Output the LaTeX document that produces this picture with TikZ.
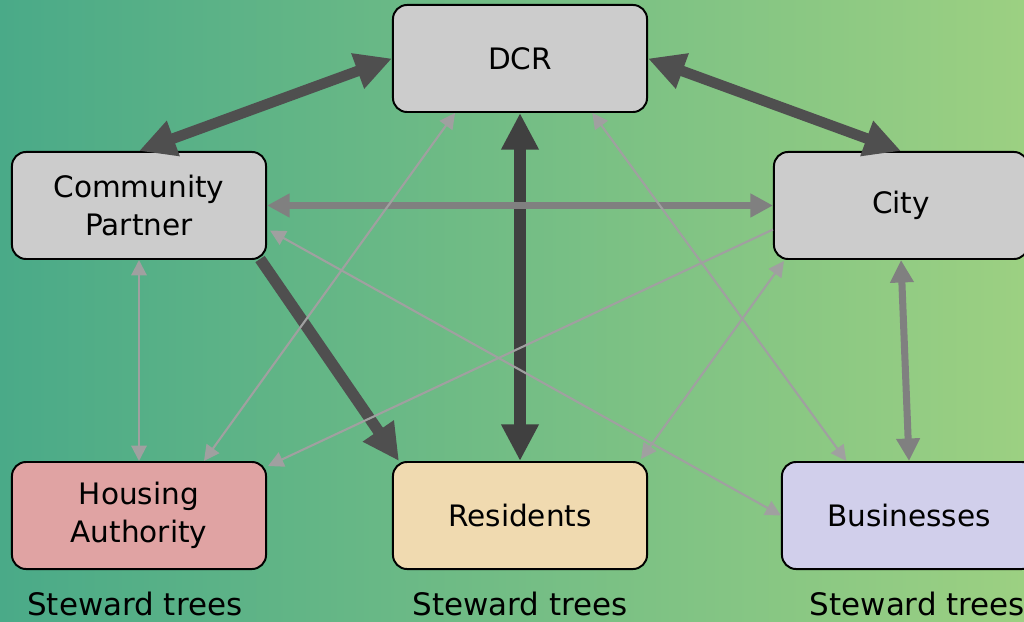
\documentclass[tikz,border=0pt]{standalone}
\usepackage{fontspec}
\setmainfont{DejaVu Sans}
\usetikzlibrary{arrows.meta,calc,positioning}
\definecolor{bgleft}{RGB}{74,170,136}
\definecolor{bgright}{RGB}{156,208,130}
\definecolor{boxgray}{RGB}{204,204,204}
\definecolor{housered}{RGB}{224,163,163}
\definecolor{residentsand}{RGB}{240,218,176}
\definecolor{businesslilac}{RGB}{209,207,235}
\definecolor{linkdeep}{RGB}{64,64,64}
\definecolor{linkdark}{RGB}{79,79,79}
\definecolor{linkmid}{RGB}{128,128,128}
\definecolor{linklight}{RGB}{160,160,160}
\tikzset{
  tipL/.tip={Triangle[length=26pt,width=25pt]},
  tipM/.tip={Triangle[length=16pt,width=16pt]},
  tipS/.tip={Triangle[length=11pt,width=11pt]},
}

\begin{document}
\begin{tikzpicture}[x=0.025cm, y=-0.025cm,
  actor/.style={draw=black, line width=1.4pt, rounded corners=10pt, fill=boxgray,
    minimum width=6.35cm, minimum height=2.675cm, align=center,
    font=\fontsize{21}{27.5}\selectfont},
  steward/.style={inner sep=0pt, font=\fontsize{22}{26}\selectfont},
  bigtie/.style={line width=7.5pt, draw=linkdark},
  midtie/.style={line width=5pt, draw=linkmid},
  thintie/.style={line width=1.5pt, draw=linklight}]
\useasboundingbox (0,0) rectangle (1024,622);
\shade[left color=bgleft, right color=bgright] (0,0) rectangle (1024,622);
%--- actors ---
\node[actor] (dcr) at (520,58.5) {DCR};
\node[actor] (partner) at (139,205.5) {Community\\Partner};
\node[actor] (city) at (901,205.5) {City};
\node[actor, fill=housered] (housing) at (139,515.5) {Housing\\Authority};
\node[actor, fill=residentsand] (residents) at (520,515.5) {Residents};
\node[actor, fill=businesslilac] (business) at (909,515.5) {Businesses};
% roles
\node[steward, below=0.55cm of housing, xshift=-3pt] (stewhousing) {Steward trees};
\node[steward, below=0.55cm of residents] (stewresidents) {Steward trees};
\node[steward, below=0.55cm of business, xshift=6pt] (stewbusiness) {Steward trees};
%--- strong ties ---
\draw[bigtie, tipL-tipL] (partner.north) -- (dcr.west);
\draw[bigtie, tipL-tipL] (dcr.east) -- (city.north);
\draw[bigtie, draw=linkdeep, line width=8.3pt, tipL-tipL] (dcr.south) -- (residents.north);
\draw[bigtie, line width=8pt, -tipL] ($(partner.south east)+(-7,-1)$) -- ($(residents.north west)+(7,0)$);
%--- medium ties ---
\draw[midtie, tipM-tipM] (partner.east) -- (city.west);
\draw[midtie, tipM-tipM] (city.south) -- (business.north);
%--- weak ties ---
\draw[thintie, tipS-tipS] (partner.south) -- (housing.north);
\draw[thintie, tipS-tipS] (housing.40) -- (dcr.220);
\draw[thintie, tipS-tipS] (dcr.-37) -- (business.139);
\draw[thintie, -tipS] ($(city.west)+(0,24)$) -- ($(housing.north east)+(1,5)$);
\draw[thintie, tipS-tipS] ($(residents.north east)+(-7,-2)$) -- ($(city.south west)+(11,1)$);
\draw[thintie, tipS-tipS] ($(partner.east)+(3,25)$) -- (business.west);
\end{tikzpicture}
\end{document}
